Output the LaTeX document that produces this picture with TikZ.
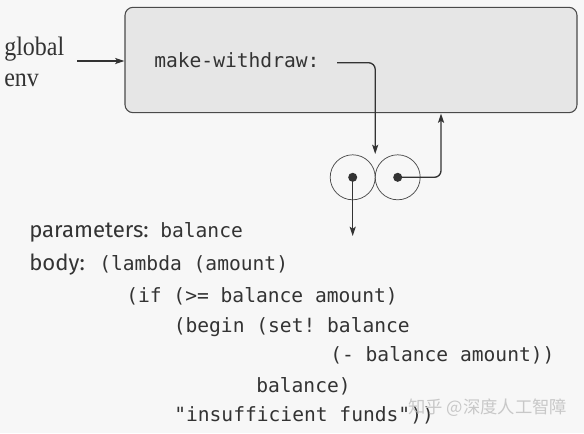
\documentclass[tikz,border=0pt]{standalone}
\usepackage{fontspec}
\usepackage{graphicx}
\usetikzlibrary{arrows.meta}
\setsansfont{Fira Sans}
\setmonofont{DejaVu Sans Mono}
\newfontfamily\globfont{Liberation Serif}
\newfontfamily\cjkfont{Noto Sans CJK SC}
\definecolor{bgc}{HTML}{F7F7F7}
\definecolor{boxc}{HTML}{E6E6E6}
\definecolor{linec}{HTML}{4A4A4A}
\definecolor{inkc}{HTML}{333333}
\definecolor{wmc}{HTML}{C8C8C8}
\tikzset{
  envbox/.style={draw=linec, fill=boxc, line width=0.8pt, rounded corners=6pt,
    minimum width=339pt, minimum height=79pt, inner sep=0pt},
  pairc/.style={circle, draw=linec, line width=0.55pt, minimum size=33.75pt, inner sep=0pt},
  dotc/.style={circle, fill=inkc, minimum size=6.8pt, inner sep=0pt},
  arr/.style={draw=inkc, line width=1pt, -{Stealth[length=7pt,width=4.6pt,inset=1.5pt]}},
  codet/.style={anchor=base west, inner sep=0pt, text=inkc, font=\ttfamily\fontsize{14.7pt}{17pt}\selectfont},
  labt/.style={anchor=base west, inner sep=0pt, text=inkc, font=\sffamily\fontsize{16.6pt}{19pt}\selectfont},
  globt/.style={anchor=base west, inner sep=0pt, text=inkc},
}
\begin{document}
\begin{tikzpicture}[x=0.75pt,y=-0.75pt]
\useasboundingbox[fill=bgc] (0,0) rectangle (584,433);
% environment box
\node[envbox] (env) at (351,60) {};
\node[globt] (glob) at (4,55.7) {\scalebox{0.9}[1]{\globfont\fontsize{20pt}{24pt}\selectfont global}};
\node[globt] (genv) at (4,86) {\scalebox{0.9}[1]{\globfont\fontsize{20pt}{24pt}\selectfont env}};
\coordinate (gstart) at (77,61);
\draw[arr] (gstart) -- (gstart -| env.west);
\node[codet] (mw) at (154,67.3) {make-withdraw:};
% procedure object
\node[pairc] (c1) at (352.7,177.3) {};
\node[pairc] (c2) at (397.7,177.3) {};
\node[dotc] (d1) at (c1.center) {};
\node[dotc] (d2) at (c2.center) {};
\coordinate (mwp) at (337,62.7);
\coordinate (junc) at (375.2,154);
\coordinate (ret) at (441,113.5);
\coordinate (lp) at (352.7,236);
\draw[arr, rounded corners=5pt] (mwp) -| (junc);
\draw[arr, rounded corners=5pt] (d2.center) -| (ret);
\draw[arr] (d1.center) -- (lp);
% code text
\node[labt] (par) at (29,237.3) {parameters:};
\node[codet] (parv) at (160,237.3) {balance};
\node[labt] (bod) at (29,270.7) {body:};
\node[codet] (l1) at (99,270.7) {(lambda (amount)};
\node[codet] (l2) at (126,302) {(if (>= balance amount)};
\node[codet] (l3) at (173.5,332) {(begin (set! balance};
\node[codet] (l4) at (330,361.7) {(- balance amount))};
\node[codet] (l5) at (256,392) {balance)};
\node[codet] (l6) at (174,421) {"insufficient funds"))};
\node[anchor=west, inner sep=0pt, text=wmc, font=\cjkfont\fontsize{13pt}{15pt}\selectfont] (wm) at (408,408) {知乎 @深度人工智障};
\end{tikzpicture}
\end{document}
